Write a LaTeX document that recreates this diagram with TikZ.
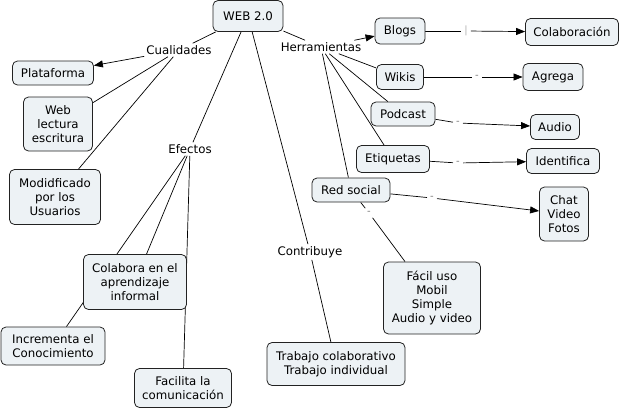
\documentclass[tikz,border=0pt]{standalone}
\usepackage{fontspec}
\setmainfont{DejaVu Sans}
\usetikzlibrary{arrows.meta}
\definecolor{boxfill}{HTML}{EDF2F5}
\definecolor{boxline}{HTML}{222222}
\definecolor{dashgray}{HTML}{7A7A7A}
\pgfdeclarelayer{bg}
\pgfsetlayers{bg,main}
\begin{document}
\begin{tikzpicture}[x=1pt,y=-1pt,
  concept/.style={draw=boxline, fill=boxfill, rounded corners=5pt, line width=0.8pt,
    align=center, inner sep=0pt, font=\fontsize{11.8}{14}\selectfont},
  phrase/.style={inner sep=2pt, font=\fontsize{11.8}{14}\selectfont},
  dashlbl/.style={inner sep=3pt, text=dashgray, font=\fontsize{10}{10}\selectfont},
  link/.style={draw=black, line width=0.7pt},
  arr/.style={link, -{Triangle[length=9pt,width=7pt]}}]
\useasboundingbox (0,0) rectangle (622,410);
% concepts
\node[concept, minimum width=70pt, minimum height=31pt] (web) at (248,16) {WEB 2.0};
\node[concept, minimum width=81pt, minimum height=24pt] (plat) at (53,73) {Plataforma};
\node[concept, minimum width=69pt, minimum height=54pt] (weblec) at (58,124) {Web\\lectura\\escritura};
\node[concept, minimum width=91pt, minimum height=55pt] (modif) at (55,197) {Modidficado\\por los\\Usuarios};
\node[concept, minimum width=103pt, minimum height=55pt] (colab) at (135,282) {Colabora en el\\aprendizaje\\informal};
\node[concept, minimum width=104pt, minimum height=38pt] (incr) at (53,346) {Incrementa el\\Conocimiento};
\node[concept, minimum width=97pt, minimum height=39pt] (facil) at (183,388) {Facilita la\\comunicación};
\node[concept, minimum width=138pt, minimum height=43pt] (trab) at (336,364) {Trabajo colaborativo\\Trabajo individual};
\node[concept, minimum width=97pt, minimum height=72pt] (facilu) at (432,298) {Fácil uso\\Mobil\\Simple\\Audio y video};
\node[concept, minimum width=50pt, minimum height=26pt] (blogs) at (400,31) {Blogs};
\node[concept, minimum width=93pt, minimum height=27pt] (colabo) at (572,32) {Colaboración};
\node[concept, minimum width=47pt, minimum height=25pt] (wikis) at (400,77) {Wikis};
\node[concept, minimum width=60pt, minimum height=27pt] (agrega) at (553,77) {Agrega};
\node[concept, minimum width=64pt, minimum height=24pt] (podcast) at (403,114) {Podcast};
\node[concept, minimum width=49pt, minimum height=25pt] (audio) at (555,127) {Audio};
\node[concept, minimum width=73pt, minimum height=27pt] (etiq) at (393,159) {Etiquetas};
\node[concept, minimum width=73pt, minimum height=25pt] (ident) at (563,161) {Identifica};
\node[concept, minimum width=78pt, minimum height=24pt] (red) at (351,190) {Red social};
\node[concept, minimum width=49pt, minimum height=54pt] (chat) at (564,214) {Chat\\Video\\Fotos};
% linking phrases
\node[phrase] (cual) at (179,50) {Cualidades};
\node[phrase] (efec) at (190,149) {Efectos};
\node[phrase] (herr) at (321,47) {Herramientas};
\node[phrase] (contrib) at (310,252) {Contribuye};
\node[dashlbl, text=black!30] (d1) at (466,31) {|};
\node[dashlbl] (d2) at (477,77) {-};
\node[dashlbl] (d3) at (458,123) {-};
\node[dashlbl] (d4) at (458,163) {-};
\node[dashlbl] (d5) at (432,198) {-};
\node[dashlbl] (d6) at (369,213) {-};
% connectors
\begin{pgfonlayer}{bg}
\draw[link] (web) -- (cual);
\draw[arr] (cual) -- (plat);
\draw[link] (cual) -- (weblec);
\draw[link] (cual) -- (modif);
\draw[link] (web) -- (efec);
\draw[link] (efec) -- (incr);
\draw[link] (efec) -- (colab);
\draw[link] (efec) -- (facil);
\draw[link] (web) -- (contrib);
\draw[link] (contrib) -- (trab);
\draw[link] (web) -- (herr);
\draw[arr] (herr) -- (blogs);
\draw[link] (herr) -- (wikis);
\draw[link] (herr) -- (podcast);
\draw[link] (herr) -- (etiq);
\draw[link] (herr) -- (red);
\draw[link] (blogs) -- (d1);
\draw[arr] (d1) -- (colabo);
\draw[link] (wikis) -- (d2);
\draw[arr] (d2) -- (agrega);
\draw[link] (podcast) -- (d3);
\draw[arr] (d3) -- (audio);
\draw[link] (etiq) -- (d4);
\draw[arr] (d4) -- (ident);
\draw[link] (red) -- (d5);
\draw[arr] (d5) -- (chat);
\draw[link] (red) -- (d6);
\draw[link] (d6) -- (facilu);
\end{pgfonlayer}
\end{tikzpicture}
\end{document}
